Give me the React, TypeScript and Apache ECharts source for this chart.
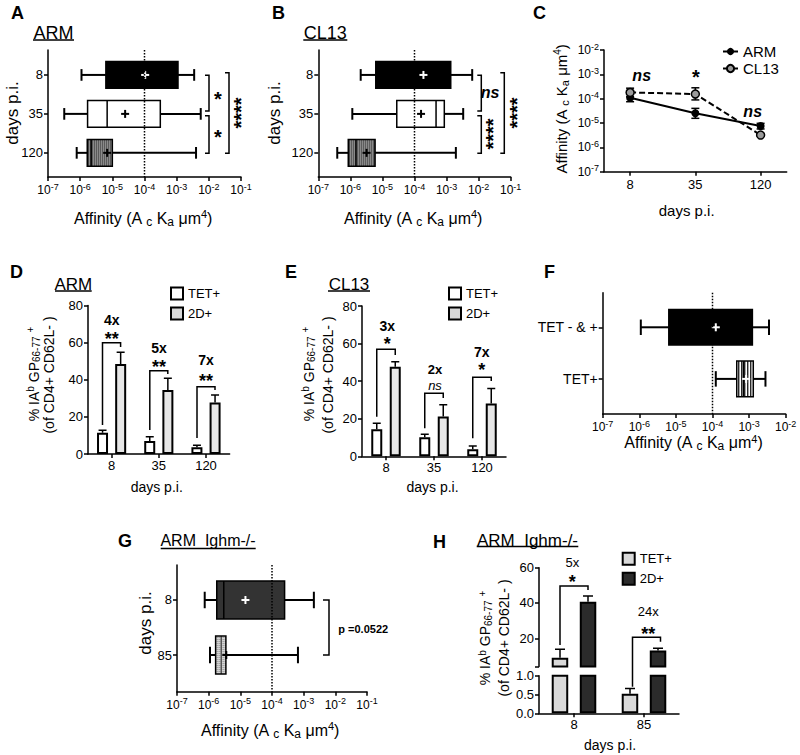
import React, { useEffect, useRef } from 'react';
import * as echarts from 'echarts';

const FONT = "'Liberation Sans', Arial, Helvetica, sans-serif";

// ---------- Panel A (ARM) box statistics ----------
const aDays = ['8', '35', '120'];
const aMin = [1.1e-6, 3.2e-7, 7.8e-7];
const aQ1 = [6.3e-6, 1.7e-6, 1.66e-6];
const aMed = [6e-5, 6.9e-6, 2.2e-6];
const aQ3 = [1.1e-3, 3.1e-4, 1.0e-5];
const aMax = [3.5e-3, 5.6e-3, 4e-3];
const aMean = [1.05e-4, 2.5e-5, 6.9e-6];

// ---------- Panel B (CL13) ----------
const bDays = ['8', '35', '120'];
const bMin = [2.1e-6, 1.15e-6, 3.9e-7];
const bQ1 = [6.2e-6, 2.8e-5, 8.6e-7];
const bMed = [1e-4, 4.7e-4, 1.5e-6];
const bQ3 = [1.35e-3, 8.5e-4, 5.9e-6];
const bMax = [6.3e-3, 3.3e-3, 1.95e-3];
const bMean = [1.9e-4, 1.6e-4, 3.2e-6];

// ---------- Panel C ----------
const cDays = ['8', '35', '120'];
const cArm = [1.1e-4, 2.5e-5, 7.5e-6];
const cArmLo = [7.5e-5, 1.56e-5, 5.7e-6];
const cArmHi = [1.9e-4, 4e-5, 9.7e-6];
const cCl13 = [1.8e-4, 1.55e-4, 3.2e-6];
const cCl13Lo = [1.2e-4, 8.9e-5, 2.9e-6];
const cCl13Hi = [2.7e-4, 2.8e-4, 3.6e-6];

// ---------- Panel D (ARM bars) ----------
const dDays = ['8', '35', '120'];
const dTet = [11.5, 7, 3.6];
const dTetErr = [12.8, 9.3, 4.7];
const d2d = [48.5, 34.5, 27.7];
const d2dErr = [54.8, 40.8, 31.8];

// ---------- Panel E (CL13 bars) ----------
const eDays = ['8', '35', '120'];
const eTet = [14.4, 10.2, 3.7];
const eTetErr = [17.6, 11.7, 5.5];
const e2d = [47.7, 21.2, 28.1];
const e2dErr = [50.3, 27.4, 36.1];

// ---------- Panel F ----------
const fGroups = ['TET - & +', 'TET+'];
const fMin = [1.1e-6, 1.23e-4];
const fQ1 = [6.4e-6, 4.6e-4];
const fMed = [1e-4, 7e-4];
const fQ3 = [1.23e-3, 1.3e-3];
const fMax = [3.5e-3, 2.8e-3];
const fMean = [1.23e-4, 8.3e-4];

// ---------- Panel G ----------
const gDays = ['8', '85'];
const gMin = [7.5e-7, 1.1e-6];
const gQ1 = [1.8e-6, 1.66e-6];
const gMed = [3.0e-6, 2.5e-6];
const gQ3 = [2.5e-4, 3.5e-6];
const gMax = [2.1e-3, 6.6e-4];
const gMean = [1.45e-5, 3.6e-6];

// ---------- Panel H ----------
const hDays = ['8', '85'];
const hTet = [9.0, 0.52];
const hTetErr = [13.8, 0.66];
const h2d = [40.7, 13.0];
const h2dErr = [44.0, 14.3];

const refAffinity = 1e-4;

// ---------- helpers ----------
const axisLine = { show: true, onZero: false, lineStyle: { color: '#000', width: 1.5 } };
const axTick = (extra: any = {}) => ({ show: true, length: 4, inside: false, lineStyle: { color: '#000', width: 1.5 }, ...extra });
const noSplit = { show: false };
const lbl = (fs: number, extra: any = {}) => ({ show: true, color: '#000', fontFamily: FONT, fontSize: fs, ...extra });

const logLabel = () =>
  lbl(12, {
    margin: 5,
    interval: 0,
    showMinLabel: true,
    showMaxLabel: true,
    formatter: (v: number) => '10{s|' + Math.round(Math.log10(v)) + '}',
    rich: { s: { fontSize: 9, fontFamily: FONT, color: '#000', verticalAlign: 'top', padding: [0, 0, 7, 0] } },
  });

const logX = (gi: number, max: number) => ({
  type: 'log',
  gridIndex: gi,
  logBase: 10,
  min: 1e-7,
  max,
  splitNumber: 8,
  axisLine,
  axisTick: axTick(),
  minorTick: { show: false },
  splitLine: noSplit,
  axisLabel: logLabel(),
});

const idx = (arr: string[]) => arr.map((_, i) => i);

const boxY = (gi: number, cats: string[], min: number, max: number, fs = 13) => ({
  type: 'value',
  gridIndex: gi,
  inverse: true,
  min,
  max,
  axisLine,
  splitLine: noSplit,
  axisTick: axTick({ customValues: idx(cats) }),
  axisLabel: lbl(fs, { margin: 5, customValues: idx(cats), formatter: (v: number) => cats[Math.round(v)] ?? '' }),
});

const ln = (x1: number, y1: number, x2: number, y2: number, color = '#000', w = 2) => ({
  type: 'line',
  shape: { x1, y1, x2, y2 },
  style: { stroke: color, lineWidth: w },
});
const rc = (x: number, y: number, w: number, h: number, fill: string) => ({
  type: 'rect',
  shape: { x, y, width: w, height: h },
  style: { fill, stroke: null },
});

// texture for a box: kind = solid colour, or 'checker' | 'vstripe' | 'dots'
const texture = (kind: string, x: number, y: number, w: number, h: number): any[] => {
  const out: any[] = [];
  if (kind === 'checker') {
    out.push(rc(x, y, w, h, '#444'));
    for (let yy = y + 1; yy < y + h - 1; yy += 2)
      for (let xx = x + 1 + (((yy - y) / 2) % 2 ? 1 : 0); xx < x + w - 1; xx += 2) out.push(rc(xx, yy, 1, 1, '#fff'));
  } else if (kind === 'vstripe') {
    out.push(rc(x, y, w, h, '#fff'));
    for (let xx = x + 2; xx < x + w - 1; xx += 3) out.push(ln(xx, y, xx, y + h, '#000', 1.2));
  } else if (kind === 'dots') {
    out.push(rc(x, y, w, h, '#d2d2d2'));
    for (let yy = y + 1; yy < y + h - 1; yy += 2)
      for (let xx = x + 1; xx < x + w - 1; xx += 2) out.push(rc(xx, yy, 1, 1, '#8a8a8a'));
  } else {
    out.push(rc(x, y, w, h, kind));
  }
  return out;
};

const boxRender = (fills: string[], meanColors: string[], medColors: string[]) => (params: any, api: any) => {
  const i = params.dataIndex;
  const yv = api.value(0);
  const pt = (d: number) => api.coord([api.value(d), yv]);
  const pMin = pt(1), pQ1 = pt(2), pMed = pt(3), pQ3 = pt(4), pMax = pt(5), pMean = pt(6);
  const cy = pMin[1];
  const a = api.coord([api.value(3), yv - 0.5]);
  const b = api.coord([api.value(3), yv + 0.5]);
  const unit = Math.abs(b[1] - a[1]);
  const bh = unit * 0.69;
  const ch = unit * 0.3;
  const bx = pQ1[0], bw = pQ3[0] - pQ1[0], by = cy - bh / 2;
  return {
    type: 'group',
    children: [
      ln(pMin[0], cy, pQ1[0], cy),
      ln(pQ3[0], cy, pMax[0], cy),
      ln(pMin[0], cy - ch / 2, pMin[0], cy + ch / 2),
      ln(pMax[0], cy - ch / 2, pMax[0], cy + ch / 2),
      ...texture(fills[i], bx, by, bw, bh),
      ln(pMed[0], by, pMed[0], by + bh, medColors[i], 1.5),
      {
        type: 'rect',
        shape: { x: bx, y: by, width: bw, height: bh },
        style: { fill: null, stroke: '#000', lineWidth: 1.5 },
      },
      ln(pMean[0] - 4, pMean[1], pMean[0] + 4, pMean[1], meanColors[i], 2),
      ln(pMean[0], pMean[1] - 4, pMean[0], pMean[1] + 4, meanColors[i], 2),
    ],
  };
};

const boxSeries = (gi: number, name: string, mins: number[], q1: number[], med: number[], q3: number[], max: number[], mean: number[], fills: string[], meanColors: string[], medColors: string[]) => ({
  type: 'custom',
  name,
  xAxisIndex: gi,
  yAxisIndex: gi,
  silent: true,
  encode: { x: [1, 2, 3, 4, 5, 6], y: 0 },
  data: mins.map((_, i) => [i, mins[i], q1[i], med[i], q3[i], max[i], mean[i]]),
  renderItem: boxRender(fills, meanColors, medColors),
  z: 2,
});

const refLine = (gi: number, yMin: number, yMax: number) => ({
  type: 'line',
  name: 'ref' + gi,
  xAxisIndex: gi,
  yAxisIndex: gi,
  silent: true,
  symbol: 'none',
  data: [[refAffinity, yMin], [refAffinity, yMax]],
  lineStyle: { color: '#000', width: 1.5, type: [1.5, 1.5] },
  z: 5,
});

const barErr = (gi: number, name: string, vals: number[], errs: number[], offset: number, cap: number) => ({
  type: 'custom',
  name,
  xAxisIndex: gi,
  yAxisIndex: gi,
  silent: true,
  clip: true,
  encode: { x: 0, y: [1, 2] },
  data: vals.map((v, i) => [i, v, errs[i]]),
  renderItem: (params: any, api: any) => {
    const x = api.value(0);
    const p1 = api.coord([x, api.value(1)]);
    const p2 = api.coord([x, api.value(2)]);
    const cx = p1[0] + offset;
    return {
      type: 'group',
      children: [ln(cx, p1[1], cx, p2[1], '#000', 1.5), ln(cx - cap / 2, p2[1], cx + cap / 2, p2[1], '#000', 1.5)],
    };
  },
  z: 3,
});

// horizontal hatch drawn inside the 2D+ bars
const barHatch = (gi: number, name: string, vals: number[], offset: number, bw: number) => ({
  type: 'custom',
  name,
  xAxisIndex: gi,
  yAxisIndex: gi,
  silent: true,
  clip: true,
  encode: { x: 0, y: 1 },
  data: vals.map((v, i) => [i, v]),
  renderItem: (params: any, api: any) => {
    const x = api.value(0);
    const top = api.coord([x, api.value(1)]);
    const base = api.coord([x, 0]);
    const cx = top[0] + offset;
    const children: any[] = [];
    for (let y = top[1] + 2.5; y < base[1] - 1; y += 2.5) children.push(ln(cx - bw / 2 + 1, y, cx + bw / 2 - 1, y, '#999', 1));
    return { type: 'group', children };
  },
  z: 2,
});

const barS = (gi: number, name: string, vals: number[], color: string, bw: number, gap: string) => ({
  type: 'bar',
  name,
  xAxisIndex: gi,
  yAxisIndex: gi,
  silent: true,
  data: vals,
  barWidth: bw,
  barGap: gap,
  clip: true,
  itemStyle: { color, borderColor: '#000', borderWidth: 2 },
  z: 2,
});

const cErr = (name: string, lo: number[], hi: number[]) => ({
  type: 'custom',
  name,
  xAxisIndex: 2,
  yAxisIndex: 2,
  silent: true,
  encode: { x: 0, y: [1, 2] },
  data: lo.map((l, i) => [i, l, hi[i]]),
  renderItem: (params: any, api: any) => {
    const x = api.value(0);
    const p1 = api.coord([x, api.value(1)]);
    const p2 = api.coord([x, api.value(2)]);
    return {
      type: 'group',
      children: [
        ln(p1[0], p1[1], p2[0], p2[1], '#000', 1.5),
        ln(p1[0] - 4, p1[1], p1[0] + 4, p1[1], '#000', 1.5),
        ln(p2[0] - 4, p2[1], p2[0] + 4, p2[1], '#000', 1.5),
      ],
    };
  },
  z: 3,
});

// ---------- graphic helpers ----------
const txt = (x: number, y: number, text: string, fs: number, extra: any = {}, rotation = 0, rich?: any) => ({
  type: 'text',
  x,
  y,
  rotation,
  silent: true,
  style: {
    text,
    fontFamily: FONT,
    fontSize: fs,
    fill: '#000',
    align: 'center',
    verticalAlign: 'middle',
    ...(rich ? { rich } : {}),
    ...extra,
  },
});
const star = (x: number, y: number, text: string, fs = 20, rot = false) =>
  rot ? txt(x + fs * 0.22, y, text, fs, { fontWeight: 'bold' }, Math.PI / 2) : txt(x, y + fs * 0.22, text, fs, { fontWeight: 'bold' });
const gl = (x1: number, y1: number, x2: number, y2: number, w = 1.5) => ({
  type: 'line',
  silent: true,
  shape: { x1, y1, x2, y2 },
  style: { stroke: '#000', lineWidth: w },
});
const poly = (pts: number[][], w = 1.5) => ({
  type: 'polyline',
  silent: true,
  shape: { points: pts },
  style: { stroke: '#000', lineWidth: w, fill: null },
});
const vBr = (x: number, y1: number, y2: number, t = 4) => poly([[x - t, y1], [x, y1], [x, y2], [x - t, y2]]);
const barBr = (xl: number, xr: number, top: number, lb: number, rb: number) => poly([[xl, lb], [xl, top], [xr, top], [xr, rb]]);
const letter = (x: number, y: number, t: string) => txt(x, y, t, 18, { fontWeight: 'bold', align: 'left' });
const uTitle = (cx: number, cy: number, x1: number, x2: number, uy: number, t: string, fs: number) => [
  txt(cx, cy, t, fs),
  gl(x1, uy, x2, uy, 1.5),
];
const affRich = (fs: number) => ({
  sub: { fontSize: Math.round(fs * 0.72), fontFamily: FONT, fill: '#000', color: '#000', verticalAlign: 'bottom', padding: [Math.round(fs * 0.45), 0, 0, 0] },
  sup: { fontSize: Math.round(fs * 0.68), fontFamily: FONT, fill: '#000', color: '#000', verticalAlign: 'top', padding: [0, 0, Math.round(fs * 0.45), 0] },
});
const affText = (x: number, y: number, fs: number, rot = 0) =>
  txt(x, y, 'Affinity (A {sub|c} K{sub|a} \u03bcm{sup|4})', fs, {}, rot, affRich(fs));
const yTitle1 = (x: number, y: number, fs: number) =>
  txt(x, y, '% IA{sup|b} GP{sub|66-77} {sup|+}', fs, {}, Math.PI / 2, affRich(fs));
const yTitle2 = (x: number, y: number, fs: number) => txt(x, y, '(of CD4+ CD62L- )', fs, {}, Math.PI / 2);

function buildOption(): any {
  const grids = [
    { left: 48, top: 50, width: 193, height: 127 }, // A
    { left: 318.3, top: 50, width: 192.4, height: 127 }, // B
    { left: 604, top: 50, width: 182.7, height: 121.7 }, // C
    { left: 88, top: 305.5, width: 141.6, height: 148.5 }, // D
    { left: 362, top: 306, width: 144, height: 150.3 }, // E
    { left: 602.7, top: 292.7, width: 183, height: 121.3 }, // F
    { left: 177, top: 565, width: 190, height: 126.7 }, // G
    { left: 539, top: 567.7, width: 140, height: 98.8 }, // H upper
    { left: 539, top: 675.7, width: 140, height: 37.6 }, // H lower
  ].map((g) => ({ ...g, containLabel: false, outerBoundsMode: 'none', show: false }));

  const catX = (gi: number, cats: string[], show = true) => ({
    type: 'category',
    gridIndex: gi,
    data: cats,
    show,
    boundaryGap: true,
    axisLine,
    axisTick: axTick({ alignWithLabel: true }),
    splitLine: noSplit,
    axisLabel: lbl(13, { margin: 5, interval: 0 }),
  });
  const valY = (gi: number, min: number, max: number, interval: number) => ({
    type: 'value',
    gridIndex: gi,
    min,
    max,
    interval,
    axisLine,
    axisTick: axTick(),
    splitLine: noSplit,
    axisLabel: lbl(13, { margin: 5 }),
  });

  const xAxis = [
    logX(0, 1e-1),
    logX(1, 1e-1),
    {
      type: 'value',
      gridIndex: 2,
      min: -0.4,
      max: 2.4,
      axisLine,
      axisTick: axTick({ customValues: idx(cDays) }),
      splitLine: noSplit,
      axisLabel: lbl(13, { margin: 6, customValues: idx(cDays), formatter: (v: number) => cDays[Math.round(v)] ?? '' }),
    },
    catX(3, dDays),
    catX(4, eDays),
    logX(5, 1e-2),
    logX(6, 1e-1),
    catX(7, hDays, false),
    catX(8, hDays),
  ];

  const yAxis = [
    boxY(0, aDays, -0.64, 2.62),
    boxY(1, bDays, -0.64, 2.62),
    {
      type: 'log',
      gridIndex: 2,
      logBase: 10,
      min: 1e-7,
      max: 1e-2,
      axisLine,
      axisTick: axTick(),
      minorTick: { show: false },
      splitLine: noSplit,
      axisLabel: logLabel(),
    },
    valY(3, 0, 80, 20),
    valY(4, 0, 80, 20),
    boxY(5, fGroups, -0.67, 1.68, 14),
    boxY(6, gDays, -0.636, 1.667),
    {
      type: 'value',
      gridIndex: 7,
      min: 4,
      max: 60,
      axisLine,
      axisTick: axTick({ customValues: [4, 20, 40, 60] }),
      splitLine: noSplit,
      axisLabel: lbl(13, { margin: 5, customValues: [20, 40, 60] }),
    },
    {
      type: 'value',
      gridIndex: 8,
      min: 0,
      max: 1,
      interval: 0.5,
      axisLine,
      axisTick: axTick(),
      splitLine: noSplit,
      axisLabel: lbl(13, { margin: 5, formatter: (v: number) => v.toFixed(1) }),
    },
  ];

  const series: any[] = [
    // A
    boxSeries(0, 'ARM box', aMin, aQ1, aMed, aQ3, aMax, aMean, ['#000', '#fff', 'checker'], ['#fff', '#000', '#000'], ['#000', '#000', '#000']),
    refLine(0, -0.64, 2.62),
    // B
    boxSeries(1, 'CL13 box', bMin, bQ1, bMed, bQ3, bMax, bMean, ['#000', '#fff', 'checker'], ['#fff', '#000', '#000'], ['#000', '#000', '#000']),
    refLine(1, -0.64, 2.62),
    // C
    {
      type: 'line',
      name: 'ARM',
      xAxisIndex: 2,
      yAxisIndex: 2,
      silent: true,
      data: cArm.map((v, i) => [i, v]),
      symbol: 'circle',
      symbolSize: 8,
      itemStyle: { color: '#000' },
      lineStyle: { color: '#000', width: 2 },
      z: 4,
    },
    {
      type: 'line',
      name: 'CL13',
      xAxisIndex: 2,
      yAxisIndex: 2,
      silent: true,
      data: cCl13.map((v, i) => [i, v]),
      symbol: 'circle',
      symbolSize: 8,
      itemStyle: { color: '#9a9a9a', borderColor: '#000', borderWidth: 1.5 },
      lineStyle: { color: '#000', width: 2, type: [6, 3] },
      z: 4,
    },
    cErr('ARM err', cArmLo, cArmHi),
    cErr('CL13 err', cCl13Lo, cCl13Hi),
    // D
    barS(3, 'TET+', dTet, '#fff', 11, '65%'),
    barS(3, '2D+', d2d, '#e6e6e6', 11, '65%'),
    barHatch(3, 'D hatch', d2d, 9.05, 11),
    barErr(3, 'D TET err', dTet, dTetErr, -9.05, 8),
    barErr(3, 'D 2D err', d2d, d2dErr, 9.05, 8),
    // E
    barS(4, 'TET+', eTet, '#fff', 11, '68%'),
    barS(4, '2D+', e2d, '#e6e6e6', 11, '68%'),
    barHatch(4, 'E hatch', e2d, 9.25, 11),
    barErr(4, 'E TET err', eTet, eTetErr, -9.25, 8),
    barErr(4, 'E 2D err', e2d, e2dErr, 9.25, 8),
    // F
    boxSeries(5, 'F box', fMin, fQ1, fMed, fQ3, fMax, fMean, ['#000', 'vstripe'], ['#fff', '#fff'], ['#000', '#000']),
    refLine(5, -0.67, 1.68),
    // G
    boxSeries(6, 'G box', gMin, gQ1, gMed, gQ3, gMax, gMean, ['#333', 'dots'], ['#fff', '#000'], ['#000', '#555']),
    refLine(6, -0.636, 1.667),
    // H (broken axis: upper + lower)
    barS(7, 'H TET+', hTet, '#d9d9d9', 16.5, '70%'),
    barS(7, 'H 2D+', h2d, '#2b2b2b', 16.5, '70%'),
    barErr(7, 'H TET err up', hTet, hTetErr, -14, 10),
    barErr(7, 'H 2D err up', h2d, h2dErr, 14, 10),
    barS(8, 'H TET+', hTet, '#d9d9d9', 16.5, '70%'),
    barS(8, 'H 2D+', h2d, '#2b2b2b', 16.5, '70%'),
    barErr(8, 'H TET err low', hTet, hTetErr, -14, 10),
    barErr(8, 'H 2D err low', h2d, h2dErr, 14, 10),
  ];

  const legTxt = (fs: number) => ({ fontFamily: FONT, fontSize: fs, color: '#000' });
  const barLegend = (left: number, top: number, data: any[], extra: any = {}) => ({
    left,
    top,
    orient: 'vertical',
    padding: 0,
    icon: 'rect',
    itemWidth: 12,
    itemHeight: 12,
    itemGap: 6,
    selectedMode: false,
    textStyle: legTxt(13),
    data,
    ...extra,
  });
  const legend = [
    {
      left: 722,
      top: 44,
      orient: 'vertical',
      padding: 0,
      itemWidth: 15,
      itemHeight: 9,
      itemGap: 2,
      selectedMode: false,
      textStyle: legTxt(15),
      data: ['ARM', 'CL13'],
    },
    barLegend(170, 286.5, [
      { name: 'TET+', itemStyle: { color: '#fff', borderColor: '#000', borderWidth: 2 } },
      { name: '2D+', itemStyle: { color: '#d8d8d8', borderColor: '#000', borderWidth: 2 } },
    ]),
    barLegend(448, 286.5, [
      { name: 'TET+', itemStyle: { color: '#fff', borderColor: '#000', borderWidth: 2 } },
      { name: '2D+', itemStyle: { color: '#d8d8d8', borderColor: '#000', borderWidth: 2 } },
    ]),
    barLegend(
      621.7,
      551.7,
      [
        { name: 'H TET+', itemStyle: { color: '#d9d9d9', borderColor: '#000', borderWidth: 2 } },
        { name: 'H 2D+', itemStyle: { color: '#2b2b2b', borderColor: '#000', borderWidth: 2 } },
      ],
      { formatter: (n: string) => n.replace('H ', '') }
    ),
  ];

  const graphic: any[] = [
    // panel letters
    letter(11, 13, 'A'),
    letter(272, 13, 'B'),
    letter(533, 13, 'C'),
    letter(10, 272, 'D'),
    letter(285, 272, 'E'),
    letter(544, 272, 'F'),
    letter(118, 541, 'G'),
    letter(433, 542, 'H'),
    // titles
    ...uTitle(53.5, 32.5, 33, 74, 40, 'ARM', 18),
    ...uTitle(325.3, 32.5, 303.3, 347.3, 40, 'CL13', 18),
    ...uTitle(73.3, 284.5, 55, 91.7, 291, 'ARM', 17),
    ...uTitle(349, 284.5, 328, 370, 291, 'CL13', 17),
    ...uTitle(208, 540, 160.7, 255.7, 548.5, 'ARM  Ighm-/-', 16),
    ...uTitle(527.5, 540, 476.7, 578.3, 546.5, 'ARM  Ighm-/-', 17),
    // axis titles
    affText(143, 218, 16),
    txt(12, 113, 'days p.i.', 17, {}, Math.PI / 2),
    affText(413, 218, 16),
    txt(274, 113, 'days p.i.', 17, {}, Math.PI / 2),
    txt(686.7, 210, 'days p.i.', 15),
    affText(561, 109, 15, Math.PI / 2),
    txt(156.7, 486.7, 'days p.i.', 14),
    yTitle1(33.5, 374, 14),
    yTitle2(48.5, 375, 14),
    txt(432.5, 486.7, 'days p.i.', 14),
    yTitle1(308.5, 374, 14),
    yTitle2(327.5, 375, 14),
    affText(693.3, 442.7, 16),
    affText(270, 730, 16),
    txt(145, 623, 'days p.i.', 17, {}, Math.PI / 2),
    txt(610, 745, 'days p.i.', 14),
    yTitle1(485, 638, 14),
    yTitle2(504, 638, 14),
    // A annotations
    vBr(209, 75.3, 111),
    vBr(209, 115.7, 153.3),
    vBr(229, 72.7, 153.3),
    star(218, 95, '*'),
    star(218, 133, '*'),
    star(237, 113, '****', 20, true),
    // B annotations
    vBr(481.3, 75.3, 111),
    vBr(481.3, 115.7, 153.3),
    vBr(504.3, 72.7, 153.3),
    txt(490, 92, 'ns', 16, { fontWeight: 'bold', fontStyle: 'italic' }),
    star(488.7, 134, '****', 20, true),
    star(513, 113, '****', 20, true),
    // C annotations
    txt(641.7, 75, 'ns', 16, { fontWeight: 'bold', fontStyle: 'italic' }),
    star(696, 73, '*'),
    txt(752.7, 111.7, 'ns', 16, { fontWeight: 'bold', fontStyle: 'italic' }),
    // D annotations
    barBr(102.5, 120.6, 342.7, 425, 347),
    barBr(149.8, 167.8, 370.7, 430, 374),
    barBr(197, 215, 386.7, 438, 390),
    txt(111.7, 320, '4x', 14, { fontWeight: 'bold' }),
    star(111.7, 335, '**', 18),
    txt(159, 348.3, '5x', 14, { fontWeight: 'bold' }),
    star(159, 362.7, '**', 18),
    txt(206, 360, '7x', 14, { fontWeight: 'bold' }),
    star(206, 377.3, '**', 18),
    // E annotations
    barBr(376.75, 395.25, 349.3, 416.7, 355),
    barBr(424.75, 443.25, 393.3, 428.3, 398),
    barBr(472.75, 491.25, 377.3, 438.3, 381),
    txt(387.3, 326, '3x', 14, { fontWeight: 'bold' }),
    star(387.3, 340, '*', 18),
    txt(435, 369.5, '2x', 13, { fontWeight: 'bold' }),
    txt(435, 385, 'ns', 13, { fontStyle: 'italic' }),
    txt(481.7, 351.7, '7x', 14, { fontWeight: 'bold' }),
    star(481.7, 366, '*', 18),
    // G annotations
    vBr(329, 600, 655, 6),
    txt(338.3, 629, 'p =0.0522', 11, { fontWeight: 'bold', align: 'left' }),
    // H annotations
    txt(572.3, 562.7, '5x', 13),
    star(572.3, 577.7, '*', 18),
    barBr(560, 588, 586, 645, 590),
    txt(648.3, 611, '24x', 13),
    star(648.3, 630, '**', 18),
    barBr(632.5, 660.5, 637.3, 686.7, 641.7),
  ];

  return {
    animation: false,
    backgroundColor: '#fff',
    textStyle: { fontFamily: FONT },
    grid: grids,
    xAxis,
    yAxis,
    legend,
    series,
    graphic: { elements: graphic },
  };
}

export default function App() {
  const ref = useRef<HTMLDivElement>(null);
  useEffect(() => {
    if (!ref.current) return;
    const chart = echarts.init(ref.current, undefined, { renderer: 'svg' });
    chart.setOption(buildOption());
    return () => chart.dispose();
  }, []);
  return (
    <div
      ref={ref}
      style={{ position: 'absolute', left: 0, top: 0, width: 800, height: 755, background: '#fff' }}
    />
  );
}
